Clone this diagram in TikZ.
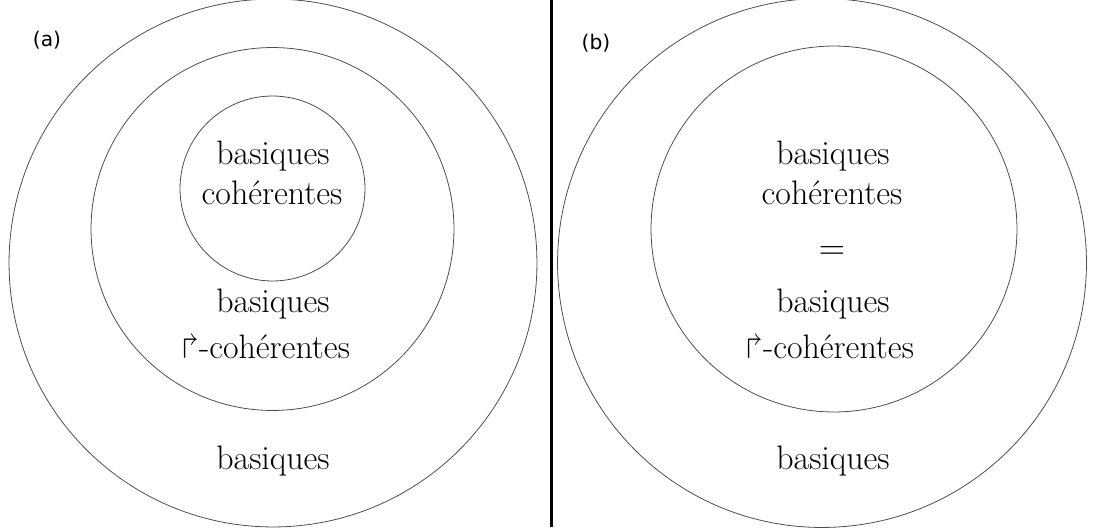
\documentclass[tikz,border=0pt]{standalone}
\usepackage{amssymb}
\usepackage{fontspec}
\newfontfamily\labelfont{DejaVu Sans}
\tikzset{
  ring/.style={draw=black!70, line width=0.45pt},
  word/.style={font=\fontsize{19.3}{24}\selectfont, anchor=base, inner sep=0pt},
  tag/.style={font=\labelfont\fontsize{11.5}{14}\selectfont, inner sep=0pt}
}
\begin{document}
\begin{tikzpicture}[x=0.02cm,y=-0.02cm]
  \useasboundingbox (0,0) rectangle (1095,531);
  \coordinate (oa) at (273,263);
  \coordinate (ma) at (272.5,229);
  \coordinate (ia) at (272.5,188.5);
  \coordinate (ob) at (822,263);
  \coordinate (mb) at (834,229);
  \begin{scope}[ring]
    \draw (oa) circle [radius=5.28cm];
    \draw (ma) circle [radius=3.63cm];
    \draw (ia) circle [radius=1.85cm];
    \draw (ob) circle [radius=5.29cm];
    \draw (mb) circle [radius=3.66cm];
  \end{scope}
  \coordinate (top) at (551,0);
  \coordinate (bot) at (551,527);
  \draw[line width=1.7pt] (top) -- (bot);
  \node[tag] (la) at (47,40) {(a)};
  \node[tag] (lb) at (596,43) {(b)};
  \node[word] (a1) at (273,164) {basiques};
  \node[word] (a2) at (272,204) {cohérentes};
  \node[word] (a3) at (273,312) {basiques};
  \node[word] (a4) at (266,358) {$\Rsh$-cohérentes};
  \node[word] (a5) at (273,469) {basiques};
  \node[word] (b1) at (833,164) {basiques};
  \node[word] (b2) at (832,204) {cohérentes};
  \node[word] (b3) at (832,259) {$=$};
  \node[word] (b4) at (833,312) {basiques};
  \node[word] (b5) at (830,358) {$\Rsh$-cohérentes};
  \node[word] (b6) at (833,469) {basiques};
\end{tikzpicture}
\end{document}
